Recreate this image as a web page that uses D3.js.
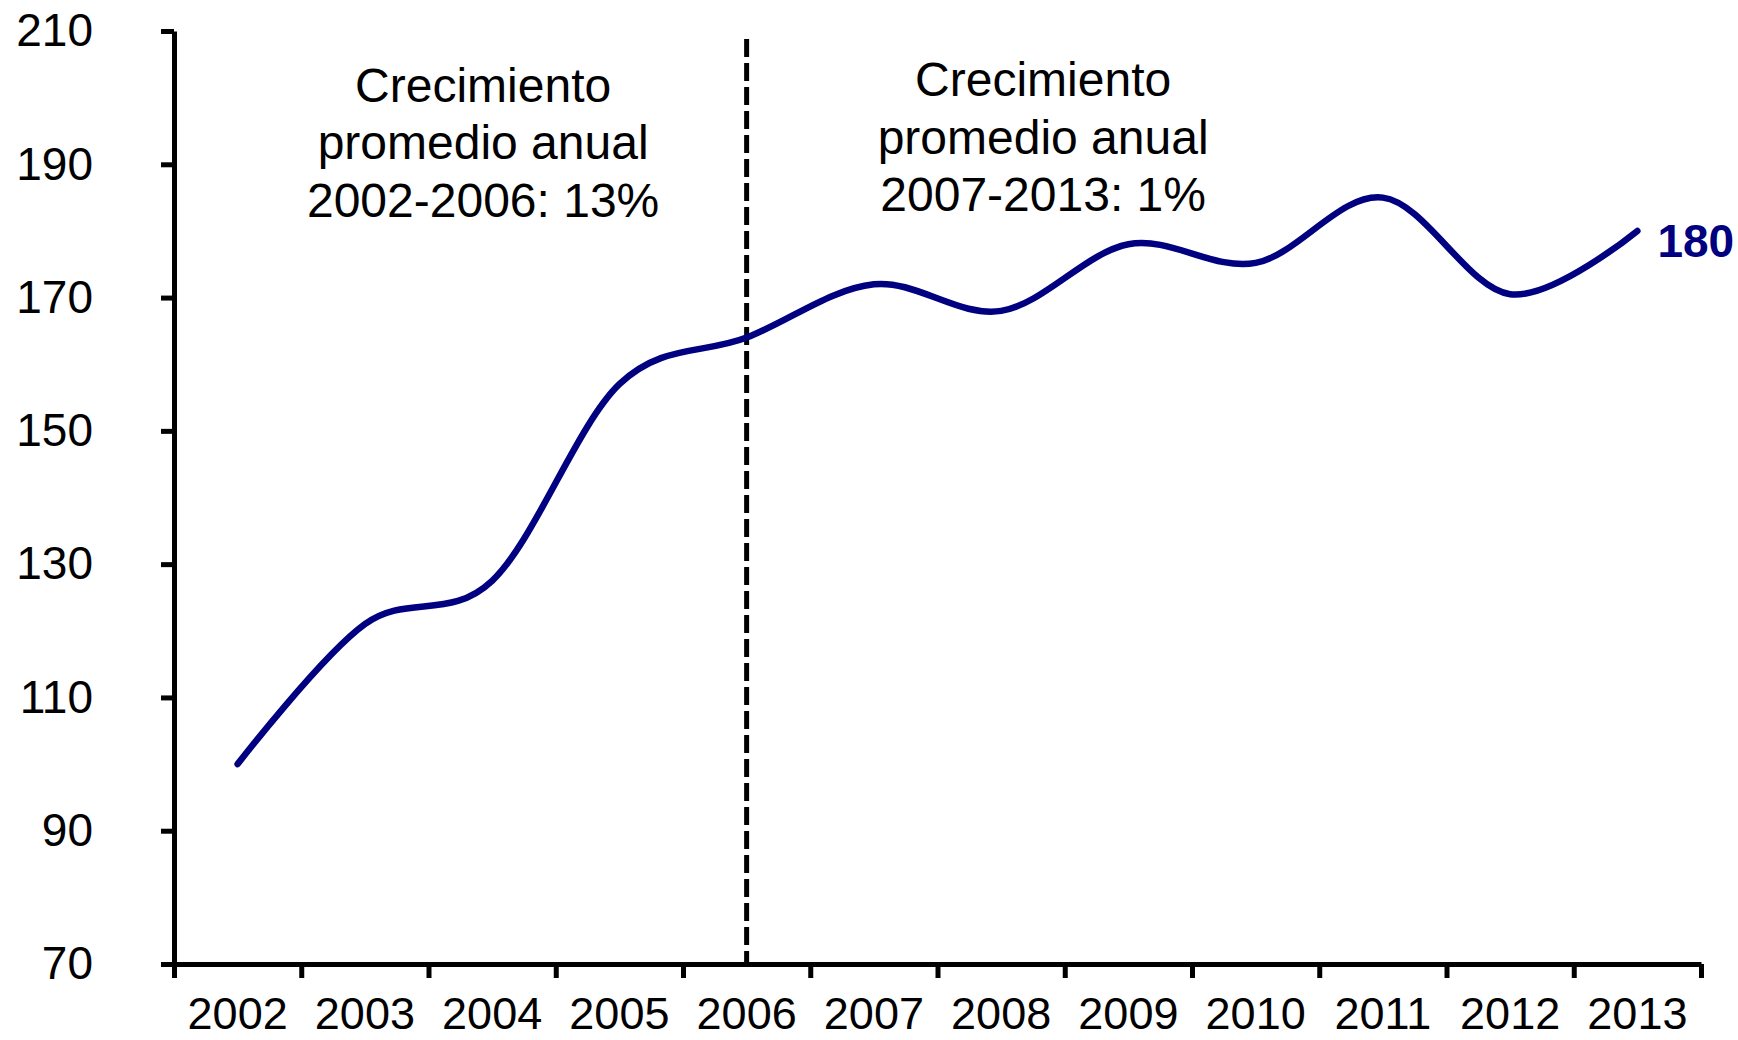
<!DOCTYPE html>
<html>
<head>
<meta charset="utf-8">
<script src="https://cdn.jsdelivr.net/npm/d3@7"></script>
<style>
    body { margin: 0; background: #fff; }
    svg { display: block; font-family: "Liberation Sans", Arial, sans-serif; }
</style>
</head>
<body>
<svg id="chart" width="1738" height="1040"></svg>
<script>
// Values
const years = ["2002", "2003", "2004", "2005", "2006", "2007", "2008", "2009", "2010", "2011", "2012", "2013"];
const values = [100, 121, 127.5, 157, 164, 172, 168, 178, 175.2, 185, 170.5, 180];
const yTicks = [70, 90, 110, 130, 150, 170, 190, 210];
const noteLeft = ["Crecimiento", "promedio anual", "2002-2006: 13%"];
const noteRight = ["Crecimiento", "promedio anual", "2007-2013: 1%"];
const splitYear = "2006";

const width = 1738;
const height = 1040;
const margin = { top: 31, right: 37, bottom: 76, left: 174 };
const lineColor = "#000080";

const svg = d3.select("#chart");

const x = d3.scaleBand().domain(years).range([margin.left, width - margin.right]).padding(0);
const y = d3.scaleLinear().domain([70, 210]).range([height - margin.bottom, margin.top]);
// boundaries between categories, for the tick marks
const xEdges = d3.scaleLinear().domain([0, years.length]).range(x.range());
const mid = (yr) => x(yr) + x.bandwidth() / 2;

// y axis
const yAxis = svg.append("g")
    .attr("transform", `translate(${margin.left},0)`)
    .call(d3.axisLeft(y).tickValues(yTicks).tickSize(13).tickPadding(68).tickSizeOuter(0));
yAxis.select(".domain").attr("stroke-width", 5);
yAxis.selectAll(".tick line").attr("stroke-width", 5);
yAxis.selectAll("text").attr("font-size", 46).attr("fill", "#000").attr("font-family", "Liberation Sans, Arial, sans-serif");

// x axis tick marks at category edges
const xTickAxis = svg.append("g")
    .attr("transform", `translate(0,${height - margin.bottom})`)
    .call(d3.axisBottom(xEdges).tickValues(d3.range(years.length + 1)).tickSize(14).tickFormat("").tickSizeOuter(0));
xTickAxis.select(".domain").attr("stroke-width", 5);
xTickAxis.selectAll(".tick line").attr("stroke-width", 5);

// x labels centred in each band
const xLabelAxis = svg.append("g")
    .attr("transform", `translate(0,${height - margin.bottom})`)
    .call(d3.axisBottom(x).tickSize(0).tickPadding(33));
xLabelAxis.select(".domain").remove();
xLabelAxis.selectAll("text").attr("font-size", 45).attr("fill", "#000").attr("font-family", "Liberation Sans, Arial, sans-serif");

// dashed split line in the middle of 2006
svg.append("line")
    .attr("x1", mid(splitYear)).attr("x2", mid(splitYear))
    .attr("y1", 39).attr("y2", y(70))
    .attr("stroke", "#000")
    .attr("stroke-width", 5)
    .attr("stroke-dasharray", "18 6");

// smoothed line (Excel-style smoothing)
const line = d3.line()
    .x((d, i) => mid(years[i]))
    .y((d) => y(d))
    .curve(d3.curveCatmullRom.alpha(0));

svg.append("path")
    .datum(values)
    .attr("fill", "none")
    .attr("stroke", lineColor)
    .attr("stroke-width", 6.5)
    .attr("stroke-linecap", "round")
    .attr("stroke-linejoin", "round")
    .attr("d", line);

// end value label
const last = values.length - 1;
svg.append("text")
    .attr("x", mid(years[last]) + 20)
    .attr("y", y(values[last]))
    .attr("dy", "0.57em")
    .attr("font-size", 46)
    .attr("font-weight", "bold")
    .attr("fill", lineColor)
    .text(values[last]);

// growth annotations
function note(lines, cx, top) {
    const t = svg.append("text")
        .attr("text-anchor", "middle")
        .attr("font-size", 48)
        .attr("fill", "#000");
    lines.forEach((s, i) => {
        t.append("tspan").attr("x", cx).attr("y", top + i * 57.5).text(s);
    });
}
note(noteLeft, mid("2004") - 9, 101.5);
note(noteRight, mid("2008") + 42, 96);
</script>
</body>
</html>
